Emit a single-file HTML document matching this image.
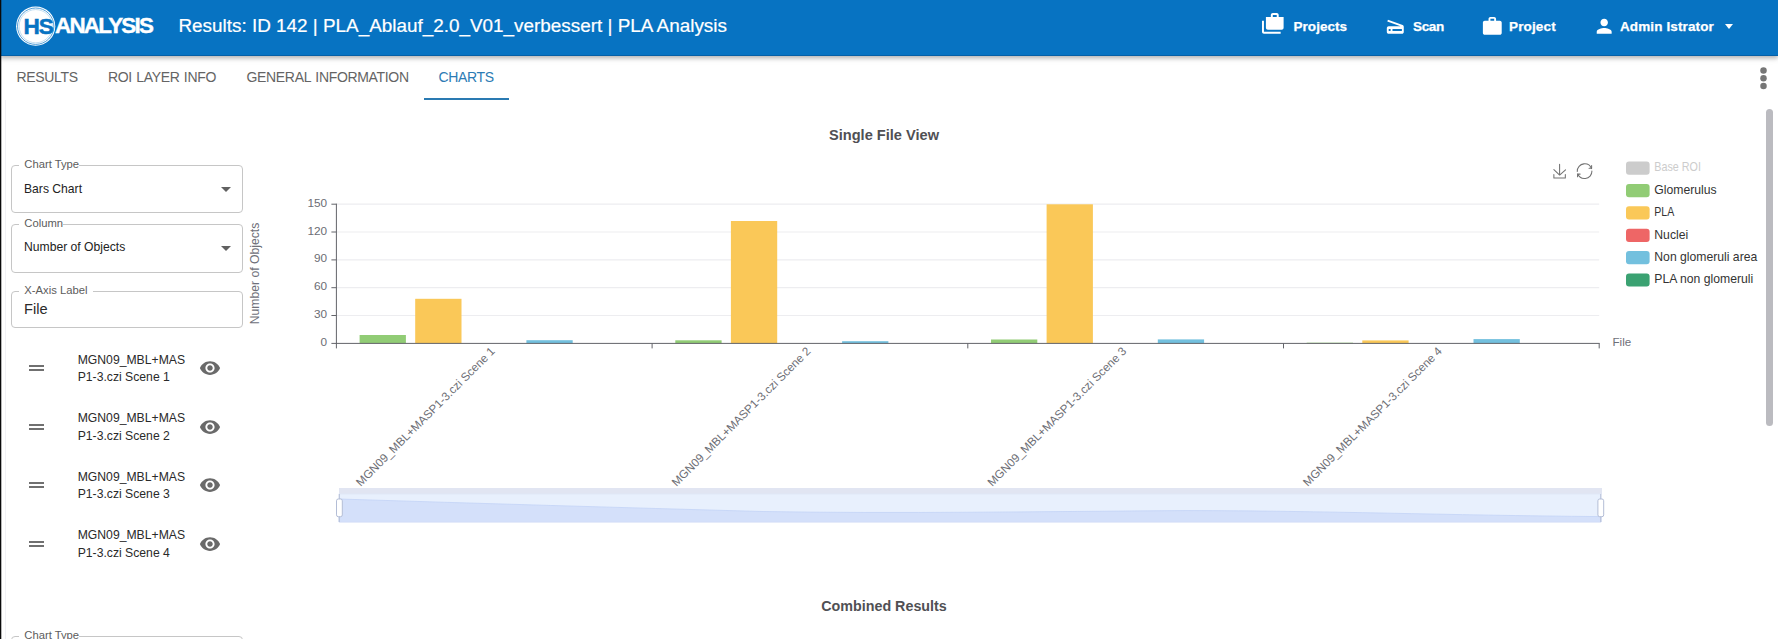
<!DOCTYPE html>
<html lang="en">
<head>
<meta charset="utf-8">
<title>Results: ID 142 | PLA_Ablauf_2.0_V01_verbessert | PLA Analysis</title>
<style>
*{box-sizing:border-box;margin:0;padding:0}
html,body{width:1778px;height:639px;overflow:hidden;background:#fff;font-family:"Liberation Sans",Arial,sans-serif;}
body{position:relative}
.abs{position:absolute;white-space:nowrap;line-height:1}
#edge{position:absolute;left:0;top:0;width:2px;height:639px;background:linear-gradient(to right,#0a0a0a 0,#0a0a0a 1px,rgba(10,10,10,.3) 1px,rgba(10,10,10,.3) 2px);z-index:50}
#hdr{position:absolute;left:0;top:0;width:1778px;height:55.5px;background:#0773c2;box-shadow:inset 0 -1px 0 rgba(0,0,30,.16),0 2px 4px rgba(0,0,0,.22),0 3px 6px rgba(0,0,0,.10);z-index:10}
#hdr .t{position:absolute;color:#fff;white-space:nowrap;line-height:1}
.nav{font-weight:bold;font-size:13.5px}
.tab{position:absolute;top:70px;font-size:14px;letter-spacing:-0.33px;color:#646464;white-space:nowrap;line-height:1}
.field{position:absolute;left:11px;width:232px;border:1px solid #c6c6c6;border-radius:4px}
.flabel{position:absolute;left:19px;background:#fff;padding:0 4px 0 5.3px;font-size:11.25px;color:#5c5c5c;line-height:1;white-space:nowrap}
.fval{position:absolute;left:24px;font-size:12.15px;color:#222;line-height:1;white-space:nowrap}
.caret{position:absolute;width:0;height:0;border-left:5px solid transparent;border-right:5px solid transparent;border-top:5px solid #616161}
.row{position:absolute;left:0;width:250px;height:40px}
.row .ham{position:absolute;left:29.2px;top:14px;width:15.2px;height:6px;background:linear-gradient(to bottom,#707070 0,#707070 2px,transparent 2px,transparent 4px,#707070 4px,#707070 6px)}
.row .nm{position:absolute;left:77.7px;top:0.6px;font-size:12.2px;line-height:17.6px;color:#2a2a2a;white-space:nowrap}
.row svg{position:absolute;left:198.6px;top:6px}
.ctitle{position:absolute;font-weight:bold;color:#505054;white-space:nowrap;line-height:1;transform:translateX(-50%)}
</style>
</head>
<body>
<div id="edge"></div>
<div style="position:absolute;left:5px;top:100px;width:1px;height:539px;background:#f1f1f5"></div>

<!-- HEADER -->
<div id="hdr">
  <svg style="position:absolute;left:14px;top:5px" width="44" height="44" viewBox="0 0 44 44">
    <circle cx="21.7" cy="21.2" r="19.6" fill="#fff"/>
    <circle cx="21.7" cy="21.2" r="18.2" fill="none" stroke="#3d93d3" stroke-width="0.9"/>
    <circle cx="21.7" cy="21.2" r="16.6" fill="none" stroke="#9cc9ea" stroke-width="0.6"/>
    <text x="9.4" y="29" font-family="Liberation Sans, Arial, sans-serif" font-weight="bold" font-size="22.6" letter-spacing="-1.0" fill="#0773c2" stroke="#0773c2" stroke-width="0.5">HS</text>
  </svg>
  <div class="t" id="brand" style="left:55px;top:14.6px;font-weight:bold;font-size:22.4px;letter-spacing:-1.75px;-webkit-text-stroke:0.4px #fff">ANALYSIS</div>
  <div class="t" id="ttl" style="left:178.4px;top:17.3px;font-size:18.9px;-webkit-text-stroke:0.2px #fff">Results: ID 142 | PLA_Ablauf_2.0_V01_verbessert | PLA Analysis</div>

  <svg style="position:absolute;left:1260.6px;top:12.2px" width="23.6" height="23.6" viewBox="0 0 24 24"><path fill="#fff" d="M3 9H1v11c0 1.110.890 2 2 2h17v-2H3V9zm15-4V3c0-1.100-.900-2-2-2h-4c-1.100 0-2 .9-2 2v2H5v11c0 1.100.9 2 2 2h14c1.100 0 2-.900 2-2V5h-5zm-6-2h4v2h-4V3z"/></svg>
  <div class="t nav" id="n1" style="-webkit-text-stroke:0.25px #fff;left:1293.5px;top:19.7px;letter-spacing:0.05px">Projects</div>
  <svg style="position:absolute;left:1384.2px;top:15px" width="22.600" height="22.6" viewBox="0 0 24 24"><path fill="#fff" d="M19.800 10.700L4.200 5l-.700 1.900L17.600 12H5c-1.100 0-2 .9-2 2v4c0 1.100.9 2 2 2h14c1.100 0 2-.900 2-2v-5.500c0-.800-.500-1.600-1.200-1.800zM7 17H5v-2h2v2zm12 0H9v-2h10v2z"/></svg>
  <div class="t nav" id="n2" style="-webkit-text-stroke:0.25px #fff;left:1413px;top:19.7px;letter-spacing:-0.34px">Scan</div>
  <svg style="position:absolute;left:1481.200px;top:14.900px" width="22.6" height="22.6" viewBox="0 0 24 24"><path fill="#fff" d="M20 6h-4V4c0-1.110-.890-2-2-2h-4c-1.110 0-2 .890-2 2v2H4c-1.110 0-1.990.890-1.990 2L2 19c0 1.110.890 2 2 2h16c1.110 0 2-.890 2-2V8c0-1.110-.890-2-2-2zm-6 0h-4V4h4v2z"/></svg>
  <div class="t nav" id="n3" style="-webkit-text-stroke:0.25px #fff;left:1509px;top:19.7px;letter-spacing:0.15px">Project</div>
  <svg style="position:absolute;left:1593.1px;top:15.2px" width="22.4" height="22.4" viewBox="0 0 24 24"><path fill="#fff" d="M12 12c2.210 0 4-1.790 4-4s-1.790-4-4-4-4 1.790-4 4 1.790 4 4 4zm0 2c-2.670 0-8 1.340-8 4v2h16v-2c0-2.660-5.330-4-8-4z"/></svg>
  <div class="t nav" id="n4" style="-webkit-text-stroke:0.25px #fff;left:1620px;top:19.7px;letter-spacing:0.12px">Admin Istrator</div>
  <div class="caret" style="left:1725.1px;top:24px;border-top-color:#fff;border-left-width:4.8px;border-right-width:4.8px"></div>
</div>

<!-- TABS -->
<div class="tab" id="tb1" style="left:16.5px">RESULTS</div>
<div class="tab" id="tb2" style="left:108px;word-spacing:0.8px">ROI LAYER INFO</div>
<div class="tab" id="tb3" style="left:246.5px;word-spacing:1.2px">GENERAL INFORMATION</div>
<div class="tab" id="tb4" style="left:438.5px;color:#2c7bb4">CHARTS</div>
<div style="position:absolute;left:423.5px;top:98px;width:85.5px;height:2.4px;background:#2a7ab2"></div>
<svg style="position:absolute;left:1759px;top:67px" width="9" height="24" viewBox="0 0 9 24"><circle cx="4.5" cy="3.500" r="3.25" fill="#767676"/><circle cx="4.5" cy="11.200" r="3.25" fill="#767676"/><circle cx="4.500" cy="18.900" r="3.25" fill="#767676"/></svg>

<!-- scrollbar -->
<div style="position:absolute;left:1766px;top:108.600px;width:7px;height:317.400px;border-radius:3.5px;background:#bbbbc0"></div>

<!-- LEFT PANEL -->
<div class="field" style="top:164.7px;height:48px"></div>
<div class="flabel" id="l1" style="top:158.6px;padding-right:0">Chart Type</div>
<div class="fval" id="v1" style="top:182.5px">Bars Chart</div>
<div class="caret" style="left:220.5px;top:187px"></div>

<div class="field" style="top:223.9px;height:48.7px"></div>
<div class="flabel" id="l2" style="top:218.1px;padding-right:0">Column</div>
<div class="fval" id="v2" style="top:241px">Number of Objects</div>
<div class="caret" style="left:220.5px;top:246px"></div>

<div class="field" style="top:291px;height:36.6px"></div>
<div class="flabel" id="l3" style="top:285.2px;padding-right:5.5px">X-Axis Label</div>
<div class="fval" id="v3" style="top:301.9px;font-size:14.6px;color:#2a2a2a">File</div>

<div class="row" style="top:351px"><div class="ham"></div><div class="nm">MGN09_MBL+MAS<br>P1-3.czi Scene 1</div>
<svg width="22" height="22" viewBox="0 0 24 24"><path fill="#6a6a6a" d="M12 4.5C7 4.5 2.73 7.61 1 12c1.73 4.39 6 7.5 11 7.500s9.270-3.110 11-7.500c-1.730-4.390-6-7.500-11-7.500zM12 17c-2.760 0-5-2.240-5-5s2.240-5 5-5 5 2.240 5 5-2.240 5-5 5zm0-8c-1.660 0-3 1.340-3 3s1.340 3 3 3 3-1.340 3-3-1.340-3-3-3z"/></svg></div>
<div class="row" style="top:409.5px"><div class="ham"></div><div class="nm">MGN09_MBL+MAS<br>P1-3.czi Scene 2</div>
<svg width="22" height="22" viewBox="0 0 24 24"><path fill="#6a6a6a" d="M12 4.5C7 4.5 2.73 7.61 1 12c1.73 4.39 6 7.5 11 7.500s9.270-3.110 11-7.500c-1.730-4.390-6-7.500-11-7.500zM12 17c-2.760 0-5-2.240-5-5s2.240-5 5-5 5 2.240 5 5-2.240 5-5 5zm0-8c-1.660 0-3 1.340-3 3s1.340 3 3 3 3-1.340 3-3-1.340-3-3-3z"/></svg></div>
<div class="row" style="top:468px"><div class="ham"></div><div class="nm">MGN09_MBL+MAS<br>P1-3.czi Scene 3</div>
<svg width="22" height="22" viewBox="0 0 24 24"><path fill="#6a6a6a" d="M12 4.5C7 4.5 2.73 7.61 1 12c1.73 4.39 6 7.5 11 7.500s9.270-3.110 11-7.500c-1.730-4.390-6-7.500-11-7.500zM12 17c-2.760 0-5-2.240-5-5s2.240-5 5-5 5 2.240 5 5-2.240 5-5 5zm0-8c-1.660 0-3 1.340-3 3s1.340 3 3 3 3-1.340 3-3-1.340-3-3-3z"/></svg></div>
<div class="row" style="top:526.5px"><div class="ham"></div><div class="nm">MGN09_MBL+MAS<br>P1-3.czi Scene 4</div>
<svg width="22" height="22" viewBox="0 0 24 24"><path fill="#6a6a6a" d="M12 4.5C7 4.5 2.73 7.61 1 12c1.73 4.39 6 7.5 11 7.500s9.270-3.110 11-7.500c-1.730-4.390-6-7.500-11-7.500zM12 17c-2.760 0-5-2.240-5-5s2.240-5 5-5 5 2.240 5 5-2.240 5-5 5zm0-8c-1.660 0-3 1.340-3 3s1.340 3 3 3 3-1.340 3-3-1.340-3-3-3z"/></svg></div>

<div class="field" style="top:635.5px;height:47.5px"></div>
<div class="flabel" id="l4" style="top:629.9px;padding-right:0">Chart Type</div>

<!-- TITLES -->
<div class="ctitle" id="ct1" style="left:884px;top:127.6px;font-size:14.6px">Single File View</div>
<div class="ctitle" id="ct2" style="left:884px;top:598.8px;font-size:14.3px">Combined Results</div>

<!-- CHART -->
<svg id="chart" style="position:absolute;left:0;top:0" width="1778" height="639" viewBox="0 0 1778 639" font-family="Liberation Sans, Arial, sans-serif" font-size="12">
<g id="grid" stroke="#ededf0" stroke-width="1.2">
<line x1="336.4" x2="1599.2" y1="315.5" y2="315.5"/>
<line x1="336.4" x2="1599.2" y1="287.7" y2="287.7"/>
<line x1="336.4" x2="1599.2" y1="259.9" y2="259.9"/>
<line x1="336.4" x2="1599.2" y1="232.0" y2="232.0"/>
<line x1="336.4" x2="1599.2" y1="204.2" y2="204.2"/>
</g>
<g id="bars">
<rect x="359.6" y="335.0" width="46.3" height="8.4" fill="#91cc75"/>
<rect x="415.2" y="298.8" width="46.3" height="44.6" fill="#fac858"/>
<rect x="526.4" y="340.2" width="46.3" height="3.2" fill="#73c0de"/>
<rect x="675.3" y="340.3" width="46.3" height="3.1" fill="#91cc75"/>
<rect x="730.9" y="221.0" width="46.3" height="122.4" fill="#fac858"/>
<rect x="842.1" y="341.2" width="46.3" height="2.2" fill="#73c0de"/>
<rect x="991.0" y="339.5" width="46.3" height="3.9" fill="#91cc75"/>
<rect x="1046.6" y="204.3" width="46.3" height="139.1" fill="#fac858"/>
<rect x="1157.8" y="339.4" width="46.3" height="4.0" fill="#73c0de"/>
<rect x="1306.7" y="342.7" width="46.3" height="0.7" fill="#91cc75"/>
<rect x="1362.3" y="340.4" width="46.3" height="3.0" fill="#fac858"/>
<rect x="1473.5" y="339.1" width="46.3" height="4.3" fill="#73c0de"/>
</g>
<g id="axes" stroke="#63646a" stroke-width="1" fill="none">
<line x1="336.4" x2="336.4" y1="203.65" y2="343.9"/>
<line x1="335.9" x2="1599.7" y1="343.4" y2="343.4"/>
<line x1="331.4" x2="336.4" y1="343.4" y2="343.4"/>
<line x1="331.4" x2="336.4" y1="315.5" y2="315.5"/>
<line x1="331.4" x2="336.4" y1="287.7" y2="287.7"/>
<line x1="331.4" x2="336.4" y1="259.9" y2="259.9"/>
<line x1="331.4" x2="336.4" y1="232.0" y2="232.0"/>
<line x1="331.4" x2="336.4" y1="204.2" y2="204.2"/>
<line x1="336.4" x2="336.4" y1="343.4" y2="348.4"/>
<line x1="652.1" x2="652.1" y1="343.4" y2="348.4"/>
<line x1="967.8" x2="967.8" y1="343.4" y2="348.4"/>
<line x1="1283.5" x2="1283.5" y1="343.4" y2="348.4"/>
<line x1="1599.2" x2="1599.2" y1="343.4" y2="348.4"/>
</g>
<g id="ylab" fill="#6c6d74" font-size="11.8" text-anchor="end">
<text x="327.1" y="345.9">0</text>
<text x="327.1" y="318.0">30</text>
<text x="327.1" y="290.2">60</text>
<text x="327.1" y="262.4">90</text>
<text x="327.1" y="234.5">120</text>
<text x="327.1" y="206.7">150</text>
</g>
<text id="yname" transform="translate(259.3,273.5) rotate(-90)" text-anchor="middle" fill="#6e7079" font-size="12.2">Number of Objects</text>
<text id="xname" x="1612.5" y="346" fill="#6e7079" font-size="11.6">File</text>
<g id="xlab" fill="#6c6d74" font-size="11.66" text-anchor="end">
<text transform="translate(492.8,349.1) rotate(-45)" dy="0.35em">MGN09_MBL+MASP1-3.czi Scene 1</text>
<text transform="translate(808.5,349.1) rotate(-45)" dy="0.35em">MGN09_MBL+MASP1-3.czi Scene 2</text>
<text transform="translate(1124.2,349.1) rotate(-45)" dy="0.35em">MGN09_MBL+MASP1-3.czi Scene 3</text>
<text transform="translate(1439.8,349.1) rotate(-45)" dy="0.35em">MGN09_MBL+MASP1-3.czi Scene 4</text>
</g>
<g id="legend" font-size="12.2">
<rect x="1626" y="161.6" width="23.6" height="13.2" rx="3" fill="#cccccc"/>
<text x="1654.3" y="171.4" fill="#cccccc" textLength="46.6" lengthAdjust="spacingAndGlyphs">Base ROI</text>
<rect x="1626" y="184.0" width="23.6" height="13.2" rx="3" fill="#91cc75"/>
<text x="1654.3" y="193.8" fill="#333">Glomerulus</text>
<rect x="1626" y="206.3" width="23.6" height="13.2" rx="3" fill="#fac858"/>
<text x="1654.3" y="216.1" fill="#333" textLength="20.0" lengthAdjust="spacingAndGlyphs">PLA</text>
<rect x="1626" y="228.7" width="23.6" height="13.2" rx="3" fill="#ee6666"/>
<text x="1654.3" y="238.5" fill="#333">Nuclei</text>
<rect x="1626" y="251.0" width="23.6" height="13.2" rx="3" fill="#73c0de"/>
<text x="1654.3" y="260.8" fill="#333">Non glomeruli area</text>
<rect x="1626" y="273.4" width="23.6" height="13.2" rx="3" fill="#3ba272"/>
<text x="1654.3" y="283.2" fill="#333">PLA non glomeruli</text>
</g>
<g id="toolbox" stroke="#727272" stroke-width="1.05" fill="none" stroke-linecap="round" stroke-linejoin="round">
<path vector-effect="non-scaling-stroke" transform="translate(1552.8,164.2) scale(0.2327,0.238)" d="M4.700,22.900L29.300,45.500L54.700,23.400M4.600,43.600L4.600,58L53.800,58L53.800,43.600M29.200,45.100L29.200,0"/>
<path vector-effect="non-scaling-stroke" transform="translate(1576.74,163.34) scale(0.262)" d="M47,18.900h9.800V8.700M56.300,20.100C52.100,9,40.500,0.600,26.800,2.100C12.600,3.700,1.600,16.200,2.100,30.600M13,41.100H3.100v10.200M3.700,39.900c4.200,11.100,15.800,19.500,29.500,18c14.200-1.600,25.200-14.100,24.700-28.500"/>
</g>
<g id="dz">
<rect x="339" y="494" width="1262" height="28" fill="#e8f0fd"/>
<path d="M339 499C480 503.500 620 507.500 762 511.500C900 513.800 1040 511.500 1186 510.600C1330 510.800 1440 515.200 1601 516.600V522H339Z" fill="#d4e0fa" stroke="#c3d3f6" stroke-width="0.8"/>
<rect x="339" y="488" width="1263" height="6.2" fill="#e1e5f2"/>
<rect x="339" y="494" width="1262" height="28" fill="none" stroke="#dfe6f7" stroke-width="0.6"/>
<line x1="339.3" x2="339.300" y1="494" y2="522" stroke="#b3bdd6" stroke-width="1"/><line x1="1600.800" x2="1600.8" y1="494" y2="522" stroke="#b3bdd6" stroke-width="1"/>
<rect x="336.500" y="499" width="5.8" height="17.700" rx="1.800" fill="#fff" stroke="#b3bdd6" stroke-width="1"/>
<rect x="1597.900" y="499" width="5.8" height="17.7" rx="1.8" fill="#fff" stroke="#b3bdd6" stroke-width="1"/>
</g>
</svg>
</body>
</html>
